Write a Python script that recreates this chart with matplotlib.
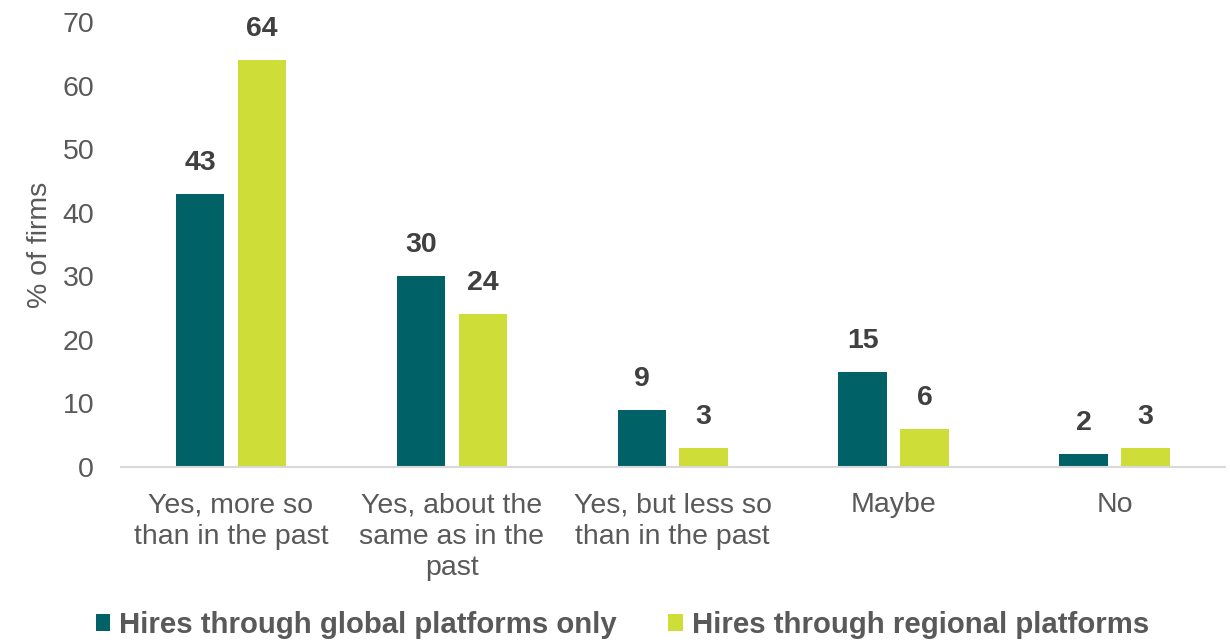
import matplotlib
matplotlib.use("Agg")
import matplotlib.pyplot as plt
import numpy as np

plt.rcParams['font.family'] = ['Liberation Sans', 'DejaVu Sans']

categories = [
    "Yes, more so\nthan in the past",
    "Yes, about the\nsame as in the\npast",
    "Yes, but less so\nthan in the past",
    "Maybe",
    "No",
]
series_names = ["Hires through global platforms only", "Hires through regional platforms"]
global_only = [43, 30, 9, 15, 2]
regional = [64, 24, 3, 6, 3]
y_ticks = [0, 10, 20, 30, 40, 50, 60, 70]

teal = "#006266"
lime = "#CFDD38"
tick_gray = "#595959"
label_gray = "#404040"

fig = plt.figure(figsize=(12.3, 6.43), dpi=100)
ax = fig.add_axes([0.098, 0.2737, 0.898, 0.6921])

x = np.arange(len(categories))
w = 0.22
off = 0.14
b1 = ax.bar(x - off, global_only, width=w, color=teal, label=series_names[0])
b2 = ax.bar(x + off, regional, width=w, color=lime, label=series_names[1])

for bars, vals in ((b1, global_only), (b2, regional)):
    for rect, v in zip(bars, vals):
        ax.annotate(f"{v}", (rect.get_x() + rect.get_width() / 2, v),
                    xytext=(0, 13), textcoords="offset points",
                    ha="center", va="bottom", fontsize=20.5, fontweight="bold",
                    color=label_gray)

ax.set_xlim(-0.5, len(categories) - 0.5)
ax.set_ylim(0, 70)
ax.set_yticks(y_ticks)
ax.set_xticks(x)
ax.set_xticklabels(categories, fontsize=20.5, color=tick_gray, linespacing=1.28)
ax.tick_params(axis="y", length=0, pad=19, labelsize=20.5, labelcolor=tick_gray)
ax.tick_params(axis="x", length=0, pad=18)
for s in ("top", "right", "left"):
    ax.spines[s].set_visible(False)
ax.spines["bottom"].set_color("#D9D9D9")
ax.spines["bottom"].set_linewidth(1.5)

ax.set_ylabel("% of firms", fontsize=20.5, color=tick_gray, labelpad=7)

leg = fig.legend(handles=[b1, b2], loc="lower center", bbox_to_anchor=(0.506, -0.035),
                 ncol=2, frameon=False, handlelength=0.5, handleheight=0.5,
                 handletextpad=0.3, columnspacing=1.75,
                 prop={"size": 21.2, "weight": "bold"})
for t in leg.get_texts():
    t.set_color(tick_gray)

fig.savefig("out.png", dpi=100)
